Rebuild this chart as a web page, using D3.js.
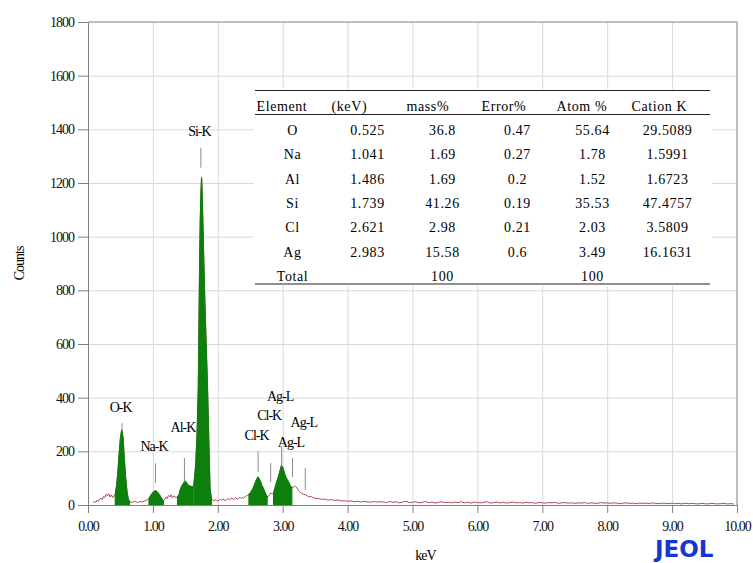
<!DOCTYPE html>
<html>
<head>
<meta charset="utf-8">
<script src="https://cdn.jsdelivr.net/npm/d3@7"></script>
<style>
  body { margin: 0; background: #fff; }
  text { font-family: "Liberation Serif", "Times New Roman", serif; }
</style>
</head>
<body>
<script>
// spectrum, low energy part (keV / counts)
const specKeV = [0.08,0.10,0.12,0.14,0.16,0.18,0.20,0.22,0.24,0.26,0.28,0.30,0.32,0.34,0.36,0.38,0.40,0.42,0.44,0.46,
  0.48,0.50,0.52,0.54,0.56,0.58,0.60,0.62,0.64,0.68,0.72,0.76,0.80,0.84,0.88,0.92,0.94,0.96,0.98,1.00,
  1.02,1.04,1.06,1.08,1.10,1.12,1.14,1.16,1.18,1.20,1.22,1.24,1.26,1.28,1.30,1.32,1.34,1.36,1.38,1.40,
  1.42,1.44,1.46,1.48,1.50,1.52,1.54,1.56,1.58,1.60,1.62,1.635,1.66,1.68,1.70,1.72,1.73,1.74,1.75,1.76,
  1.77,1.78,1.80,1.82,1.84,1.86,1.88,1.90,1.92,1.94,1.96,1.98,2.00,2.02,2.04,2.06,2.08,2.10,2.12,2.14,
  2.16,2.18,2.20,2.22,2.24,2.26,2.28,2.30,2.32,2.34,2.36,2.38,2.40,2.42,2.44,2.46,2.48,2.50,2.52,2.54,
  2.56,2.58,2.60,2.62,2.64,2.66,2.68,2.70,2.72,2.74,2.76,2.78,2.80,2.82,2.84,2.86,2.88,2.90,2.92,2.94,
  2.96,2.98,3.00,3.02,3.04,3.06,3.08,3.10,3.12,3.14,3.16,3.18,3.20,3.22,3.24,3.26,3.28,3.30,3.32,3.35,
  3.38,3.41,3.44,3.47,3.50,3.55,3.60,3.65,3.70,3.75,3.80,3.85,3.90,3.95,4.00,4.05,4.10,4.15,4.20,4.25,
  4.30,4.35,4.40,4.45,4.50];
const specCounts = [8,14,10,18,14,22,26,20,32,28,40,34,42,30,38,28,34,40,70,120,
  190,250,280,250,170,100,50,22,12,10,14,9,13,11,16,20,25,32,40,46,
  50,53,50,44,38,30,22,16,20,28,24,36,30,38,26,34,30,28,32,35,
  55,68,76,84,88,82,74,72,70,69,68,85,150,260,440,900,1060,1160,1220,1150,
  1050,950,760,600,450,250,60,24,18,15,20,17,14,18,21,17,22,19,16,21,
  24,19,23,26,20,24,27,22,25,29,24,28,26,31,34,36,40,44,52,60,
  72,84,96,104,96,86,72,62,50,40,30,32,40,44,42,46,62,80,94,110,
  128,146,140,124,108,98,90,80,70,64,66,70,68,64,56,50,46,42,40,38,
  34,30,32,27,25,24,21,22,18,20,17,19,15,16,14,15,12,14,11,13,
  12,10,13,11,12];
// spectrum tail, channels every 0.05 keV from 4.55 keV
const tailStart = 4.55;
const tailStep = 0.05;
const tailCounts = [11,9,13,10,12,8,11,14,9,10, 12,8,10,13,9,11,7,10,12,9,
  10,8,11,9,12,8,10,7,11,9, 8,10,12,7,9,11,8,10,7,9,
  11,8,9,7,10,8,9,6,10,8, 7,9,8,10,6,8,9,7,8,6,
  8,7,9,6,8,7,6,9,7,8, 6,8,7,5,7,8,6,7,5,7,
  6,7,5,8,6,5,7,6,5,7, 5,6,4,7,5,6,5,4,6,5,
  4,6,5,4,5,6,4,5,4];

// integration windows (green)
const roiStart = [0.42, 0.94, 1.38, 1.635, 2.48, 2.86];
const roiEnd   = [0.64, 1.16, 1.62, 1.90, 2.76, 3.14];

// line markers
const markName   = ["O-K","Na-K","Al-K","Si-K","Cl-K","Cl-K","Ag-L","Ag-L","Ag-L"];
const markKeV    = [0.525,1.041,1.486,1.739,2.621,2.815,2.983,3.151,3.348];
const markTop    = [305,156,175,1331,201,156,219,175,138];
const markBottom = [280,82,86,1257,123,86,145,104,56];
const markLabel  = [365,219,291,1392,262,335,405,234,309];

// quantitative table
const tableHead = ["Element","(keV)","mass%","Error%","Atom %","Cation K"];
const tableElem = ["O","Na","Al","Si","Cl","Ag","Total"];
const tableKeV  = ["0.525","1.041","1.486","1.739","2.621","2.983",""];
const tableMass = ["36.8","1.69","1.69","41.26","2.98","15.58","100"];
const tableErr  = ["0.47","0.27","0.2","0.19","0.21","0.6",""];
const tableAtom = ["55.64","1.78","1.52","35.53","2.03","3.49","100"];
const tableCat  = ["29.5089","1.5991","1.6723","47.4757","3.5809","16.1631",""];

const W = 753, H = 563;
const margin = {left: 88, right: 16, top: 22, bottom: 58};
const svg = d3.select("body").append("svg")
    .attr("width", W)
    .attr("height", H)

const x = d3.scaleLinear().domain([0, 10]).range([margin.left, W - margin.right]);
const y = d3.scaleLinear().domain([0, 1800]).range([H - margin.bottom, margin.top]);

const gridCol = "#d9d9d9";
const axisCol = "#808080";
const green = "#0c7f0c";

// grid
svg.append("g")
    .attr("transform", `translate(0,${y(0)})`)
    .call(d3.axisBottom(x).tickValues(d3.range(1, 10)).tickSize(-(y(0) - y(1800))).tickFormat(""))
    .call(g => g.select(".domain").remove())
    .selectAll("line").attr("stroke", gridCol);
svg.append("g")
    .attr("transform", `translate(${x(0)},0)`)
    .call(d3.axisLeft(y).tickValues(d3.range(200, 1800, 200)).tickSize(-(x(10) - x(0))).tickFormat(""))
    .call(g => g.select(".domain").remove())
    .selectAll("line").attr("stroke", gridCol);

// frame top / right
svg.append("line").attr("x1", x(0)).attr("x2", x(10)).attr("y1", y(1800)).attr("y2", y(1800)).attr("stroke", axisCol);
svg.append("line").attr("x1", x(10)).attr("x2", x(10)).attr("y1", y(1800)).attr("y2", y(0)).attr("stroke", axisCol);

// table backdrop (hides grid)
const colX = d3.scaleBand().domain(d3.range(6)).range([255, 705]);
const rowY = d3.scaleLinear().domain([0, 7]).range([106, 276]);
svg.append("rect")
    .attr("x", 254).attr("y", 89)
    .attr("width", 458).attr("height", 197)
    .attr("fill", "#fff")

// spectrum
const pts = specKeV.map((e, i) => [e, specCounts[i]])
    .concat(tailCounts.map((c, i) => [tailStart + i * tailStep, c]));

svg.append("path")
    .datum(pts)
    .attr("fill", "none")
    .attr("stroke", "#b04a52")
    .attr("stroke-width", 1)
    .attr("d", d3.line().x(d => x(d[0])).y(d => y(d[1])));

const area = d3.area().x(d => x(d[0])).y0(y(0)).y1(d => y(d[1]));
roiStart.forEach((lo, i) => {
    svg.append("path")
        .datum(pts.filter(p => p[0] >= lo && p[0] <= roiEnd[i]))
        .attr("fill", green)
        .attr("stroke", green)
        .attr("stroke-width", 1.2)
        .attr("d", area);
});

// axes
const yAxis = svg.append("g")
    .attr("transform", `translate(${x(0)},0)`)
    .call(d3.axisLeft(y).tickValues(d3.range(0, 1801, 200)).tickFormat(d3.format("d")).tickSize(10).tickSizeOuter(0).tickPadding(4));
const xAxis = svg.append("g")
    .attr("transform", `translate(0,${y(0)})`)
    .call(d3.axisBottom(x).tickValues(d3.range(0, 11)).tickFormat(d3.format(".2f")).tickSize(8).tickSizeOuter(0).tickPadding(8));
[xAxis, yAxis].forEach(g => {
    g.selectAll(".domain, line").attr("stroke", axisCol);
    g.selectAll("text")
        .attr("fill", "#111")
        .style("font-family", '"Liberation Serif", "Times New Roman", serif')
        .style("font-size", "14px")
        .style("letter-spacing", "-1px");
});

svg.append("text")
    .attr("transform", `translate(24,${(y(0) + y(1800)) / 2}) rotate(-90)`)
    .attr("text-anchor", "middle")
    .style("font-size", "14px").style("letter-spacing", "-1px")
    .text("Counts");
svg.append("text")
    .attr("x", x(5.2)).attr("y", 560)
    .attr("text-anchor", "middle")
    .style("font-size", "14px").style("letter-spacing", "-1px")
    .text("keV");

// peak markers and labels
markName.forEach((n, i) => {
    svg.append("line")
        .attr("x1", x(markKeV[i])).attr("x2", x(markKeV[i]))
        .attr("y1", y(markTop[i])).attr("y2", y(markBottom[i]))
        .attr("stroke", "#8c8c8c").attr("stroke-width", 1);
    svg.append("text")
        .attr("x", x(markKeV[i]) - 1.5).attr("y", y(markLabel[i]))
        .attr("dy", "0.35em")
        .attr("text-anchor", "middle")
        .style("font-size", "14px").style("letter-spacing", "-1px")
        .text(n);
});

// table
const tbl = svg.append("g");
tbl.append("line").attr("x1", 255).attr("x2", 710).attr("y1", 90.5).attr("y2", 90.5).attr("stroke", "#222").attr("stroke-width", 1.2);
tbl.append("line").attr("x1", 255).attr("x2", 710).attr("y1", 114.5).attr("y2", 114.5).attr("stroke", "#222").attr("stroke-width", 1);
tbl.append("line").attr("x1", 255).attr("x2", 710).attr("y1", 284).attr("y2", 284).attr("stroke", "#222").attr("stroke-width", 1.2);

tableHead.forEach((h, j) => {
    tbl.append("text")
        .attr("x", colX(j) + 1.5).attr("y", rowY(0))
        .attr("dy", "0.35em")
        .style("font-size", "14px").style("letter-spacing", "0.6px")
        .text(h);
});
const cols = [tableElem, tableKeV, tableMass, tableErr, tableAtom, tableCat];
cols.forEach((col, j) => {
    col.forEach((v, r) => {
        tbl.append("text")
            .attr("x", colX(j) + colX.bandwidth() / 2).attr("y", rowY(r + 1))
            .attr("dy", "0.35em")
            .attr("text-anchor", "middle")
            .style("font-size", "14px")
            .style("letter-spacing", "0.6px")
            .text(v);
    });
});

// logo
svg.append("text")
    .attr("x", 655).attr("y", 557)
    .style("font-family", '"DejaVu Sans", sans-serif')
    .style("font-weight", "bold")
    .style("font-size", "23px")
    .attr("fill", "#1436d4")
    .text("JEOL");
</script>
</body>
</html>
